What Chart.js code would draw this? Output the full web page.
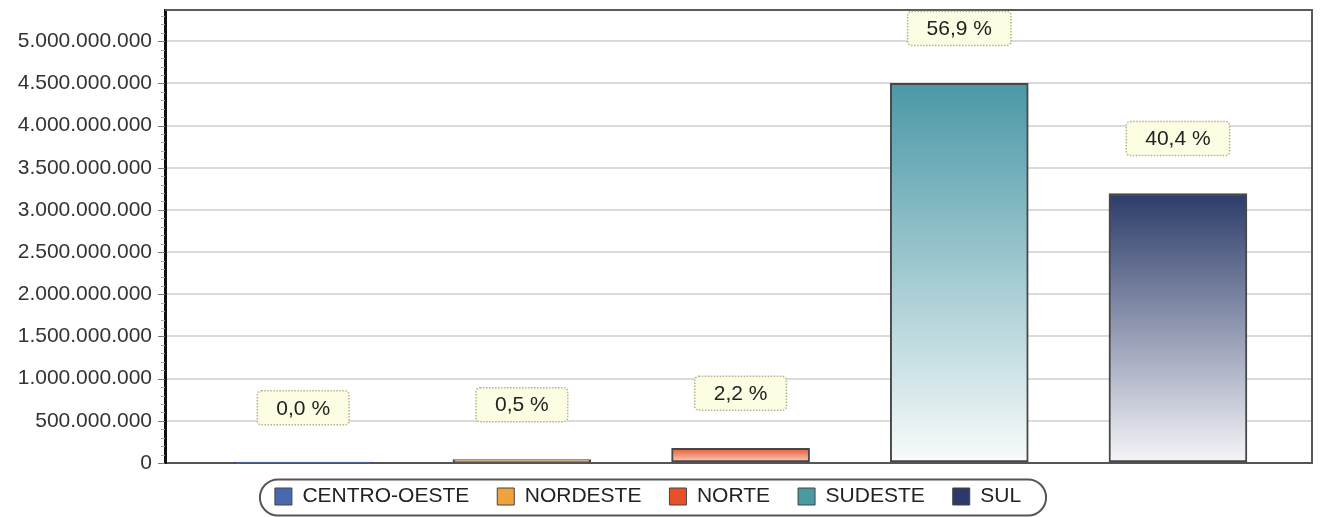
<!DOCTYPE html>
<html>
<head>
<meta charset="utf-8">
<script src="https://cdn.jsdelivr.net/npm/chart.js@4"></script>
<style>
  html, body { margin: 0; padding: 0; background: #fff; }
  #wrap { width: 1322px; height: 517px; }
</style>
</head>
<body>
<div id="wrap"><canvas id="chart"></canvas></div>
<script>
// data
const regions = ['CENTRO-OESTE', 'NORDESTE', 'NORTE', 'SUDESTE', 'SUL'];
const values = [2000000, 40000000, 174000000, 4500000000, 3195000000];
const percentLabels = ['0,0 %', '0,5 %', '2,2 %', '56,9 %', '40,4 %'];
const yTicks = [0, 500000000, 1000000000, 1500000000, 2000000000, 2500000000,
  3000000000, 3500000000, 4000000000, 4500000000, 5000000000];

// colours: legend swatch, bar top, bar bottom
const swatch = ['#4a68ae', '#f0a23c', '#e8502a', '#4a9aa2', '#2a3a6a'];
const topCol = ['#4a68ae', '#f0a23c', '#e85a36', '#4a98a6', '#2c3c6a'];
const botCol = ['#c8d2ea', '#fbe2c0', '#fcd6c6', '#f8fbfb', '#f6f6f9'];

const FONT = '"Liberation Sans", Arial, sans-serif';

function fmt(v) {
  return String(v).replace(/\B(?=(\d{3})+(?!\d))/g, '.');
}

function barFill(c) {
  const chart = c.chart;
  const i = c.dataIndex;
  if (!chart.chartArea || i === undefined) return topCol[i] || '#888';
  const y = chart.scales.y;
  const y0 = y.getPixelForValue(values[i]);
  const y1 = y.getPixelForValue(0);
  const g = chart.ctx.createLinearGradient(0, y0, 0, Math.max(y1, y0 + 1));
  g.addColorStop(0, topCol[i]);
  g.addColorStop(1, botCol[i]);
  return g;
}

// frame, axis tick marks and legend outline
const decor = {
  id: 'decor',
  afterLayout(chart) {
    // legend sits a little left of centre and close under the axis in the original
    const lg = chart.legend;
    if (lg) { lg.left -= 8; lg.right -= 8; lg.top -= 11; lg.bottom -= 11; }
  },
  beforeDatasetsDraw(chart) {
    const { ctx, chartArea: a } = chart;
    const y = chart.scales.y;
    ctx.save();
    ctx.strokeStyle = '#5a5a5a';
    ctx.lineWidth = 2;
    ctx.beginPath();
    ctx.moveTo(a.left, a.top);
    ctx.lineTo(a.right, a.top);
    ctx.lineTo(a.right, a.bottom);
    ctx.stroke();
    // minor / major ticks on the y axis
    for (let v = 0; v <= y.max; v += 100000000) {
      const py = Math.round(y.getPixelForValue(v)) + 0.5;
      const major = v % 500000000 === 0;
      ctx.strokeStyle = major ? '#777' : '#aaa';
      ctx.lineWidth = 1;
      ctx.beginPath();
      ctx.moveTo(a.left - (major ? 7 : 4), py);
      ctx.lineTo(a.left, py);
      ctx.stroke();
    }
    ctx.restore();
  },
  afterDraw(chart) {
    const { ctx } = chart;
    const lg = chart.legend;
    if (!lg || !lg.legendHitBoxes || !lg.legendHitBoxes.length) return;
    const boxes = lg.legendHitBoxes;
    const x0 = Math.min(...boxes.map(b => b.left)) - 15;
    const x1 = Math.max(...boxes.map(b => b.left + b.width)) + 25;
    const cy = boxes[0].top + boxes[0].height / 2 + 1;
    const h = 36;
    ctx.save();
    ctx.strokeStyle = '#555';
    ctx.lineWidth = 2;
    ctx.beginPath();
    ctx.roundRect(x0, cy - h / 2, x1 - x0, h, 18);
    ctx.stroke();
    ctx.restore();
  }
};

// percentage callouts above each bar
const callouts = {
  id: 'callouts',
  afterDatasetsDraw(chart) {
    const { ctx } = chart;
    const meta = chart.getDatasetMeta(0);
    ctx.save();
    ctx.font = '21px ' + FONT;
    ctx.textAlign = 'center';
    ctx.textBaseline = 'middle';
    meta.data.forEach((bar, i) => {
      const txt = percentLabels[i];
      const w = ctx.measureText(txt).width + 38;
      const h = 34;
      const cx = bar.x;
      const cy = bar.y - 55;
      ctx.fillStyle = '#fdfde4';
      ctx.strokeStyle = '#b4b48c';
      ctx.lineWidth = 1.5;
      ctx.setLineDash([1.5, 1.5]);
      ctx.beginPath();
      ctx.roundRect(cx - w / 2, cy - h / 2, w, h, 4);
      ctx.fill();
      ctx.stroke();
      ctx.setLineDash([]);
      ctx.fillStyle = '#222';
      ctx.fillText(txt, cx, cy + 1);
    });
    ctx.restore();
  }
};

new Chart(document.getElementById('chart'), {
  type: 'bar',
  data: {
    datasets: [{
      data: regions.map((r, i) => ({ x: i, y: values[i] })),
      backgroundColor: barFill,
      borderColor: '#474747',
      borderWidth: 2,
      borderSkipped: false,
      barThickness: 138
    }]
  },
  options: {
    responsive: true,
    maintainAspectRatio: false,
    animation: false,
    layout: { padding: { top: 10, right: 10, left: 0, bottom: -11 } },
    plugins: {
      tooltip: { enabled: false },
      legend: {
        position: 'bottom',
        labels: {
          font: { family: FONT, size: 21 },
          color: '#222',
          boxWidth: 17,
          boxHeight: 17,
          padding: 28,
          generateLabels: () => regions.map((r, i) => ({
            text: r,
            fillStyle: swatch[i],
            strokeStyle: '#444',
            lineWidth: 1,
            fontColor: '#222',
            index: i
          }))
        }
      }
    },
    scales: {
      x: {
        type: 'linear',
        offset: false,
        min: -0.632,
        max: 4.613,
        ticks: { display: false },
        grid: { display: false, offset: false },
        border: { color: '#555', width: 2 },
        afterFit: s => { s.height = 6; }
      },
      y: {
        min: 0,
        max: 5370000000,
        afterFit: s => { s.width = 165; s.paddingTop = 0; s.paddingBottom = 0; },
        afterBuildTicks: s => { s.ticks = yTicks.map(v => ({ value: v })); },
        ticks: {
          padding: 13,
          color: '#333',
          font: { family: FONT, size: 21 },
          callback: v => fmt(v)
        },
        grid: { color: '#dadada', lineWidth: 2, drawTicks: false },
        border: { color: '#111', width: 3 }
      }
    }
  },
  plugins: [decor, callouts]
});
</script>
</body>
</html>
